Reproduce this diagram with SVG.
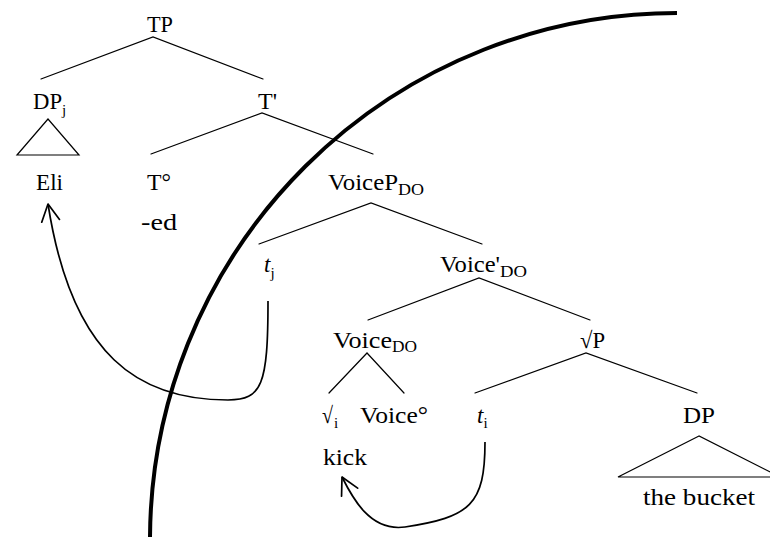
<svg xmlns="http://www.w3.org/2000/svg" width="770" height="537" viewBox="0 0 770 537">
<style>
  text { font-family: 'Liberation Serif', 'Times New Roman', serif; font-size: 23px; fill: #000; }
  .sub { font-size: 15px; }
  .subc { font-size: 16px; }
  .it { font-style: italic; }
  .br { stroke: #000; stroke-width: 1.2; fill: none; stroke-linecap: round; }
  .mv { stroke: #000; stroke-width: 1.7; fill: none; }
  .arc { stroke: #000; stroke-width: 4; fill: none; }
</style>
<defs>
  <marker id="ah" markerUnits="userSpaceOnUse" markerWidth="30" markerHeight="30" viewBox="-22 -15 30 30" refX="0" refY="0" orient="auto" overflow="visible">
    <path d="M-17,-9 L0,0 L-17,9" fill="none" stroke="#000" stroke-width="1.7" stroke-linejoin="round" stroke-linecap="round"/>
  </marker>
</defs>
<rect width="770" height="537" fill="#fff"/>

<g id="connectors">
  <path class="br" d="M41,79 L153,37 L263,79"/>
  <path class="br" d="M48,119 L17,155 L79,155 Z"/>
  <path class="br" d="M151,154 L262,113 L373,154"/>
  <path class="br" d="M259,244 L371,203 L482,244"/>
  <path class="br" d="M368,320 L479,278 L590,320"/>
  <path class="br" d="M329,393 L367,353 L404,393"/>
  <path class="br" d="M475,393 L586,353 L697,393"/>
  <path class="br" d="M699,436 L618,477 L780,477 Z"/>
  <path class="mv" marker-end="url(#ah)" d="M268,301 C268,385 262,400 228,400 C140,400 72,358 48,204"/>
  <path class="mv" marker-end="url(#ah)" d="M485,442 C485,505 470,517 405,527 C370,532 352,497 342,477"/>
  <path class="arc" d="M150,537 A527,527 0 0 1 677,13"/>
</g>

<g id="n-TP"><text x="147" y="32" textLength="26" lengthAdjust="spacingAndGlyphs">TP</text></g>
<g id="n-DPj"><text x="33" y="109"><tspan textLength="29" lengthAdjust="spacingAndGlyphs">DP</tspan><tspan class="sub" dy="6">j</tspan></text></g>
<g id="n-Tbar"><text x="258" y="109" textLength="19" lengthAdjust="spacingAndGlyphs">T'</text></g>
<g id="n-Eli"><text x="36" y="190" textLength="27" lengthAdjust="spacingAndGlyphs">Eli</text></g>
<g id="n-T0"><text x="147" y="190" textLength="24" lengthAdjust="spacingAndGlyphs">T°</text></g>
<g id="n-ed"><text x="141" y="230" textLength="36" lengthAdjust="spacingAndGlyphs">-ed</text></g>
<g id="n-VoiceP"><text x="328" y="190"><tspan textLength="70" lengthAdjust="spacingAndGlyphs">VoiceP</tspan><tspan class="subc" dy="5" textLength="26" lengthAdjust="spacingAndGlyphs">DO</tspan></text></g>
<g id="n-tj"><text x="264" y="272"><tspan class="it">t</tspan><tspan class="sub" dy="6">j</tspan></text></g>
<g id="n-Voicebar"><text x="440" y="272"><tspan textLength="60" lengthAdjust="spacingAndGlyphs">Voice'</tspan><tspan class="subc" dy="5" textLength="27" lengthAdjust="spacingAndGlyphs">DO</tspan></text></g>
<g id="n-VoiceDO"><text x="333" y="348"><tspan textLength="59" lengthAdjust="spacingAndGlyphs">Voice</tspan><tspan class="subc" dy="4" textLength="25" lengthAdjust="spacingAndGlyphs">DO</tspan></text></g>
<g id="n-rootP"><text x="580" y="348" textLength="25" lengthAdjust="spacingAndGlyphs">√P</text></g>
<g id="n-rooti"><text x="322" y="423"><tspan textLength="11" lengthAdjust="spacingAndGlyphs">√</tspan><tspan class="sub" dy="5" dx="1">i</tspan></text></g>
<g id="n-Voice0"><text x="360" y="423" textLength="68" lengthAdjust="spacingAndGlyphs">Voice°</text></g>
<g id="n-ti"><text x="477" y="423"><tspan class="it">t</tspan><tspan class="sub" dy="5">i</tspan></text></g>
<g id="n-DP"><text x="683" y="423" textLength="32" lengthAdjust="spacingAndGlyphs">DP</text></g>
<g id="n-kick"><text x="323" y="465" textLength="44" lengthAdjust="spacingAndGlyphs">kick</text></g>
<g id="n-bucket"><text x="643" y="505" textLength="112" lengthAdjust="spacingAndGlyphs">the bucket</text></g>
</svg>
